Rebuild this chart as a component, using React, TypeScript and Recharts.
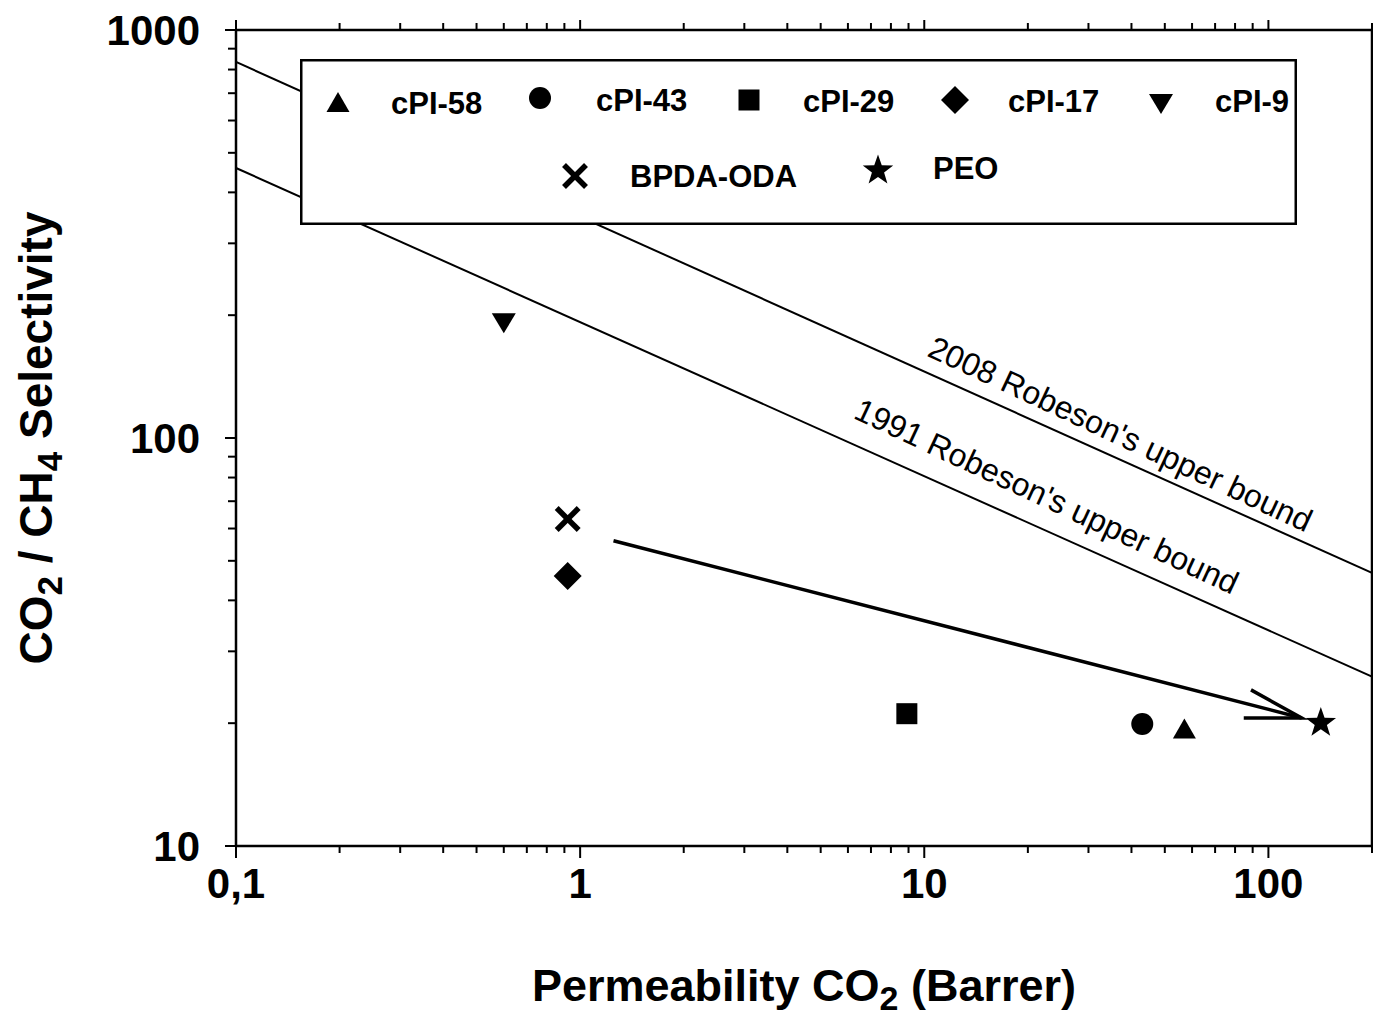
import React from "react";
import {
  ScatterChart,
  Scatter,
  XAxis,
  YAxis,
  ReferenceLine,
  ReferenceDot,
  Legend,
} from "recharts";

const FONT = '"Liberation Sans", Arial, Helvetica, sans-serif';

// x = CO2 permeability (Barrer), y = CO2/CH4 selectivity
const cpi58 = [{ x: 57, y: 19.4 }];
const cpi43 = [{ x: 43, y: 19.9 }];
const cpi29 = [{ x: 8.9, y: 21.1 }];
const cpi17 = [{ x: 0.92, y: 45.9 }];
const cpi9 = [{ x: 0.6, y: 191 }];
const bpdaOda = [{ x: 0.92, y: 63.3 }];
const peo = [{ x: 142, y: 20.2 }];

// upper bound end points
const robeson1991 = [{ x: 0.1, y: 459 }, { x: 200, y: 26 }];
const robeson2008 = [{ x: 0.1, y: 835 }, { x: 200, y: 46.7 }];
const trendArrow = [{ x: 1.25, y: 56 }, { x: 125, y: 20.6 }];
// where the line captions sit (data coords)
const label2008 = { x: 36, y: 96.7, text: "2008 Robeson's upper bound" };
const label1991 = { x: 22, y: 68, text: "1991 Robeson's upper bound" };

const xMajorTicks = [0.1, 1, 10, 100];
const xTickLabels = ["0,1", "1", "10", "100"];
const xMinorTicks = [
  0.2, 0.3, 0.4, 0.5, 0.6, 0.7, 0.8, 0.9,
  2, 3, 4, 5, 6, 7, 8, 9,
  20, 30, 40, 50, 60, 70, 80, 90, 200,
];
const yMajorTicks = [10, 100, 1000];
const yTickLabels = ["10", "100", "1000"];
const yMinorTicks = [20, 30, 40, 50, 60, 70, 80, 90, 200, 300, 400, 500, 600, 700, 800, 900];

const series = [
  { name: "cPI-58", data: cpi58, kind: "triUp" },
  { name: "cPI-43", data: cpi43, kind: "circle" },
  { name: "cPI-29", data: cpi29, kind: "square" },
  { name: "cPI-17", data: cpi17, kind: "diamond" },
  { name: "cPI-9", data: cpi9, kind: "triDown" },
  { name: "BPDA-ODA", data: bpdaOda, kind: "cross" },
  { name: "PEO", data: peo, kind: "star" },
];

function Marker({ kind, cx, cy }: { kind: string; cx: number; cy: number }) {
  switch (kind) {
    case "triUp":
      return <polygon points={`${cx},${cy - 10} ${cx + 11.5},${cy + 10} ${cx - 11.5},${cy + 10}`} fill="#000" />;
    case "triDown":
      return <polygon points={`${cx - 12},${cy - 10} ${cx + 12},${cy - 10} ${cx},${cy + 10}`} fill="#000" />;
    case "circle":
      return <circle cx={cx} cy={cy} r={11} fill="#000" />;
    case "square":
      return <rect x={cx - 10.5} y={cy - 10.5} width={21} height={21} fill="#000" />;
    case "diamond":
      return <polygon points={`${cx},${cy - 14} ${cx + 14},${cy} ${cx},${cy + 14} ${cx - 14},${cy}`} fill="#000" />;
    case "cross":
      return (
        <g stroke="#000" strokeWidth={5.5}>
          <line x1={cx - 11} y1={cy - 11} x2={cx + 11} y2={cy + 11} />
          <line x1={cx - 11} y1={cy + 11} x2={cx + 11} y2={cy - 11} />
        </g>
      );
    case "star": {
      const pts: string[] = [];
      for (let i = 0; i < 10; i++) {
        const r = i % 2 === 0 ? 16 : 6.4;
        const a = -Math.PI / 2 + (i * Math.PI) / 5;
        pts.push(`${cx + r * Math.cos(a)},${cy + 1.5 + r * Math.sin(a)}`);
      }
      return <polygon points={pts.join(" ")} fill="#000" />;
    }
    default:
      return null;
  }
}

const BottomTick = (props: any) => {
  const { x, y, payload } = props;
  const i = xMajorTicks.indexOf(payload.value);
  return (
    <g>
      <line x1={x} y1={y} x2={x} y2={y + (i >= 0 ? 12 : 7)} stroke="#000" strokeWidth={2} />
      {i >= 0 && (
        <text x={x} y={y + 52} textAnchor="middle" fontSize={42} fontWeight="bold" fontFamily={FONT} fill="#000">
          {xTickLabels[i]}
        </text>
      )}
    </g>
  );
};

const TopTick = (props: any) => {
  const { x, y, payload } = props;
  const major = xMajorTicks.includes(payload.value);
  return <line x1={x} y1={y} x2={x} y2={y - (major ? 10 : 7)} stroke="#000" strokeWidth={2} />;
};

const LeftTick = (props: any) => {
  const { x, y, payload } = props;
  const i = yMajorTicks.indexOf(payload.value);
  return (
    <g>
      <line x1={x} y1={y} x2={x - (i >= 0 ? 11 : 8)} y2={y} stroke="#000" strokeWidth={2} />
      {i >= 0 && (
        <text x={x - 36} y={y + 15} textAnchor="end" fontSize={42} fontWeight="bold" fontFamily={FONT} fill="#000">
          {yTickLabels[i]}
        </text>
      )}
    </g>
  );
};

const XTitle = (props: any) => {
  const vb = props.viewBox;
  return (
    <text x={vb.x + vb.width / 2} y={vb.y + 155} textAnchor="middle" fontSize={45} fontWeight="bold" fontFamily={FONT} fill="#000">
      Permeability CO<tspan dy={9} fontSize={34}>2</tspan>
      <tspan dy={-9}> (Barrer)</tspan>
    </text>
  );
};

const YTitle = (props: any) => {
  const vb = props.viewBox;
  const cx = vb.x + vb.width - 184;
  const cy = vb.y + vb.height / 2;
  return (
    <text
      x={cx}
      y={cy}
      transform={`rotate(-90 ${cx} ${cy})`}
      textAnchor="middle"
      fontSize={46}
      fontWeight="bold"
      fontFamily={FONT}
      fill="#000"
    >
      CO<tspan dy={10} fontSize={35}>2</tspan>
      <tspan dy={-10}> / CH</tspan>
      <tspan dy={10} fontSize={35}>4</tspan>
      <tspan dy={-10}> Selectivity</tspan>
    </text>
  );
};

const ArrowShape = (p: any) => {
  const { x1, y1, x2, y2 } = p;
  const ang = Math.atan2(y2 - y1, x2 - x1);
  const len = 58;
  const spread = 0.253;
  const ax = x2 - len * Math.cos(ang - spread);
  const ay = y2 - len * Math.sin(ang - spread);
  const bx = x2 - len * Math.cos(ang + spread);
  const by = y2 - len * Math.sin(ang + spread);
  return (
    <g stroke="#000" strokeWidth={3.5} fill="none">
      <line x1={x1} y1={y1} x2={x2} y2={y2} />
      <polyline points={`${ax},${ay} ${x2},${y2} ${bx},${by}`} />
    </g>
  );
};

const captionShape = (text: string) => (p: any) => (
  <text
    x={p.cx}
    y={p.cy}
    transform={`rotate(25 ${p.cx} ${p.cy})`}
    textAnchor="middle"
    fontSize={32}
    fontFamily={FONT}
    fill="#000"
  >
    {text}
  </text>
);

// legend layout (box-local): marker centre, label start, label baseline
const legendLayout = [
  { mx: 38, my: 43, tx: 91, ty: 55 },
  { mx: 240, my: 39, tx: 296, ty: 52 },
  { mx: 449, my: 41, tx: 503, ty: 53 },
  { mx: 655, my: 41, tx: 708, ty: 53 },
  { mx: 861, my: 45, tx: 915, ty: 53 },
  { mx: 275, my: 117, tx: 330, ty: 128 },
  { mx: 578, my: 110, tx: 633, ty: 120 },
];

const LegendBox = () => (
  <svg width={997} height={166} style={{ display: "block" }}>
    <rect x={1.25} y={1.25} width={994.5} height={163.5} fill="#fff" stroke="#000" strokeWidth={2.5} />
    {series.map((s, i) => {
      const l = legendLayout[i];
      return (
        <g key={s.name}>
          <Marker kind={s.kind} cx={l.mx} cy={l.my} />
          <text x={l.tx} y={l.ty} fontSize={31} fontWeight="bold" fontFamily={FONT} fill="#000">
            {s.name}
          </text>
        </g>
      );
    })}
  </svg>
);

export default function App() {
  const axisLine = { stroke: "#000", strokeWidth: 2.5 };
  return (
    <div style={{ position: "absolute", left: 0, top: 0, width: 1373, height: 1015, background: "#fff" }}>
      <ScatterChart width={1373} height={1015} margin={{ top: 29, right: 0, bottom: 168, left: 235 }}>
        <XAxis
          xAxisId="bottom"
          type="number"
          dataKey="x"
          scale="log"
          domain={[0.1, 200]}
          allowDataOverflow
          ticks={[...xMajorTicks, ...xMinorTicks]}
          interval={0}
          height={1}
          tickSize={0}
          tickMargin={0}
          tickLine={false}
          axisLine={axisLine}
          tick={BottomTick}
          label={XTitle}
        />
        <XAxis
          xAxisId="top"
          orientation="top"
          type="number"
          dataKey="x"
          scale="log"
          domain={[0.1, 200]}
          allowDataOverflow
          ticks={[...xMajorTicks, ...xMinorTicks]}
          interval={0}
          height={1}
          tickSize={0}
          tickMargin={0}
          tickLine={false}
          axisLine={axisLine}
          tick={TopTick}
        />
        <YAxis
          yAxisId="left"
          type="number"
          dataKey="y"
          scale="log"
          domain={[10, 1000]}
          allowDataOverflow
          ticks={[...yMajorTicks, ...yMinorTicks]}
          interval={0}
          width={1}
          tickSize={0}
          tickMargin={0}
          tickLine={false}
          axisLine={axisLine}
          tick={LeftTick}
          label={YTitle}
        />
        <YAxis
          yAxisId="right"
          orientation="right"
          type="number"
          dataKey="y"
          scale="log"
          domain={[10, 1000]}
          allowDataOverflow
          width={1}
          tick={false}
          tickLine={false}
          axisLine={axisLine}
        />
        <ReferenceLine
          xAxisId="bottom"
          yAxisId="left"
          segment={robeson2008}
          stroke="#000"
          strokeWidth={2}
          ifOverflow="visible"
        />
        <ReferenceLine
          xAxisId="bottom"
          yAxisId="left"
          segment={robeson1991}
          stroke="#000"
          strokeWidth={2}
          ifOverflow="visible"
        />
        <ReferenceLine
          xAxisId="bottom"
          yAxisId="left"
          segment={trendArrow}
          ifOverflow="visible"
          shape={ArrowShape}
        />
        <ReferenceDot xAxisId="bottom" yAxisId="left" x={label2008.x} y={label2008.y} r={1} shape={captionShape(label2008.text)} />
        <ReferenceDot xAxisId="bottom" yAxisId="left" x={label1991.x} y={label1991.y} r={1} shape={captionShape(label1991.text)} />
        {series.map((s) => (
          <Scatter
            key={s.name}
            name={s.name}
            data={s.data}
            xAxisId="bottom"
            yAxisId="left"
            isAnimationActive={false}
            shape={(p: any) => <Marker kind={s.kind} cx={p.cx} cy={p.cy} />}
          />
        ))}
        <Legend
          layout="horizontal"
          verticalAlign="middle"
          align="center"
          wrapperStyle={{ left: 300, top: 59, width: 997, height: 166, margin: 0 }}
          content={LegendBox}
        />
      </ScatterChart>
    </div>
  );
}
